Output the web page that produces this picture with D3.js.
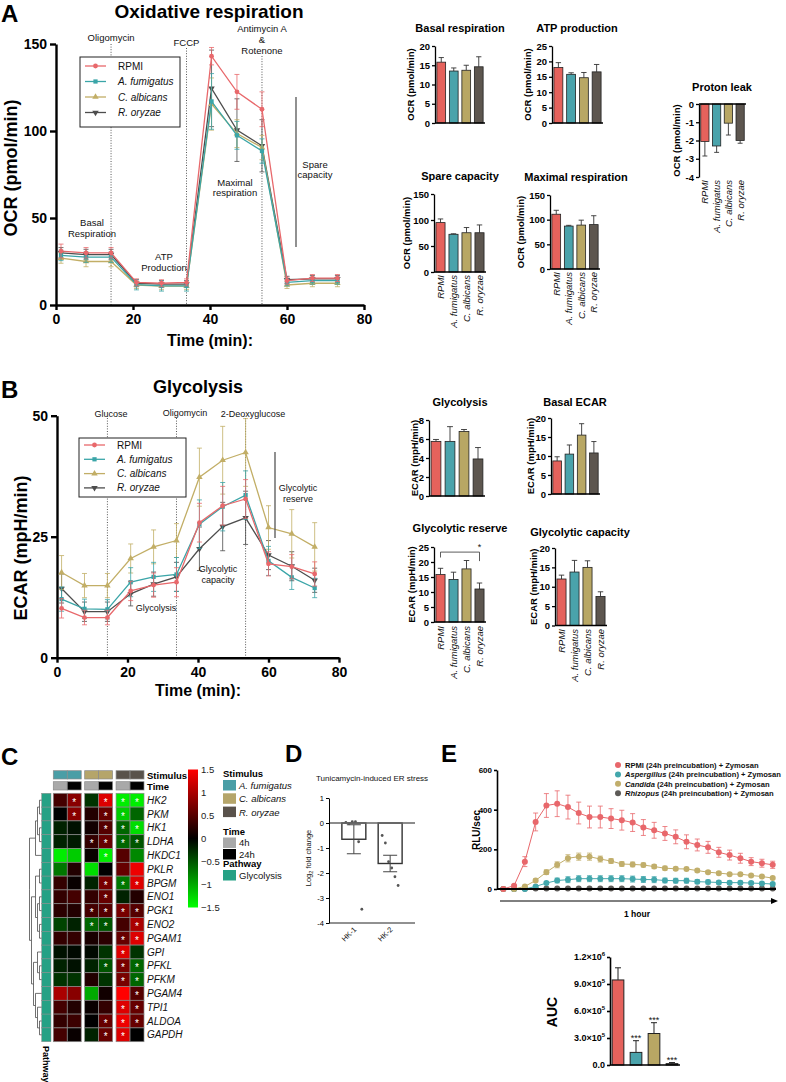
<!DOCTYPE html>
<html>
<head>
<meta charset="utf-8">
<script src="https://cdn.jsdelivr.net/npm/d3@7"></script>
<style>
  body { margin: 0; background: #fff; }
  svg { display: block; }
</style>
</head>
<body>
<div id="chart"></div>
<script>
// ---------- data ----------
const groups = ['RPMI', 'A. fumigatus', 'C. albicans', 'R. oryzae'];
const barColors = ['#e5625c', '#4aa3ab', '#b8a764', '#5d564f'];
const lineColors = ['#e8686b', '#3aa5a8', '#c2ae66', '#4d4d4d'];

// A: OCR time course
const ocrTime = [1.3, 7.8, 14.3, 20.9, 27.4, 33.9, 40.4, 47.0, 53.5, 60.0, 66.6, 73.1];
const ocrRpmi = [31, 30, 30, 13, 12.5, 13, 143, 122.5, 112.5, 14, 15.5, 15.5];
const ocrAfum = [28.5, 27.5, 27.5, 11.7, 11, 11, 117, 97.5, 88.5, 13, 14, 14];
const ocrCalb = [27, 25, 25, 11.5, 10.8, 10.8, 115.5, 98.5, 90.5, 11.5, 12.5, 12.5];
const ocrRory = [30, 29, 29, 12.5, 12, 12, 124.5, 100.5, 91.5, 14.5, 15, 15];
const ocrRpmiErr = [4, 3, 3, 2, 2, 2, 5, 10, 10, 2, 2, 2];
const ocrAfumErr = [3, 3, 3, 3, 3, 3, 16, 8, 7, 2, 2, 2];
const ocrCalbErr = [3, 3, 3, 2, 2, 2, 15, 8, 7, 2, 2, 2];
const ocrRoryErr = [3, 3, 3, 2, 2, 2, 22, 18, 15, 2, 2, 2];
const ocrInjections = [14.3, 33.9, 53.5];

// A: summary bars
const ocrBasal = [15.8, 13.5, 13.7, 14.6], ocrBasalErr = [1.2, 0.8, 1.3, 2.6];
const ocrAtp = [18.0, 15.8, 14.7, 16.6], ocrAtpErr = [1.6, 0.5, 1.7, 2.4];
const ocrLeak = [-2.05, -2.3, -1.05, -2.0], ocrLeakErr = [0.8, 0.35, 0.65, 0.15];
const ocrSpare = [95, 72.5, 75.5, 75.5], ocrSpareErr = [7, 1, 10, 15];
const ocrMax = [111, 87, 89, 90], ocrMaxErr = [8, 1.5, 10, 18];

// B: ECAR time course
const ecarTime = [1.3, 7.8, 14.3, 20.9, 27.4, 33.9, 40.4, 47.0, 53.5, 60.0, 66.6, 73.1];
const ecarRpmi = [10.2, 8.3, 8.3, 13.8, 15, 15.6, 27.9, 31.4, 32.8, 19.4, 18.8, 17.3];
const ecarAfum = [12.1, 10.1, 10, 15.6, 16.7, 17.2, 27.6, 31.2, 33.6, 20, 16.6, 14.4];
const ecarCalb = [17.6, 14.9, 14.9, 20.5, 22.9, 24.2, 37.3, 40.8, 42.4, 26.9, 25.6, 22.9];
const ecarRory = [14.3, 9.5, 9.5, 13.2, 15.2, 16.7, 22.5, 27.1, 28.9, 21.2, 18.9, 16];
const ecarRpmiErr = [2, 1.5, 1.5, 2, 2.5, 3, 4, 4, 4, 2.5, 2.5, 2.5];
const ecarAfumErr = [2.5, 2, 2, 3, 3, 3.5, 5, 5, 5, 3, 2.5, 2];
const ecarCalbErr = [3.5, 2.5, 2.5, 3, 3.5, 3.5, 6, 7, 7, 4.5, 5, 5];
const ecarRoryErr = [3, 2, 2, 2.5, 2.5, 3, 4.5, 5, 5.5, 3, 3, 2.5];
const ecarInjections = [14.3, 33.9, 53.5];

// B: summary bars
const ecarGlyco = [5.75, 5.75, 6.8, 3.9], ecarGlycoErr = [0.2, 1.55, 0.2, 1.2];
const ecarBasal = [8.7, 10.5, 15.5, 10.8], ecarBasalErr = [1.1, 2.4, 3, 3];
const ecarReserve = [15.8, 14.2, 17.7, 11], ecarReserveErr = [2.1, 2.4, 2.8, 2];
const ecarCapacity = [12, 13.8, 15, 7.5], ecarCapacityErr = [1, 3, 1.7, 1.2];

// C: heatmap
const genes = ['HK2', 'PKM', 'HK1', 'LDHA', 'HKDC1', 'PKLR', 'BPGM', 'ENO1', 'PGK1', 'ENO2',
  'PGAM1', 'GPI', 'PFKL', 'PFKM', 'PGAM4', 'TPI1', 'ALDOA', 'GAPDH'];
const stimuli = ['A. fumigatus', 'C. albicans', 'R. oryzae'];
const stimColors = ['#4a9ea6', '#b5a56a', '#59524b'];
const timePoints = ['4h', '24h'];
const timeColors = ['#a9a9a9', '#000000'];
const heatStim = ['A. fumigatus', 'A. fumigatus', 'C. albicans', 'C. albicans', 'R. oryzae', 'R. oryzae'];
const heatTime = ['4h', '24h', '4h', '24h', '4h', '24h'];
const heatValues = [
  [0.4, 0.8, -0.3, 1.3, -1.4, -1.4],
  [0, 0.8, 0.2, 0.6, -1.2, -0.6],
  [-0.2, -0.1, 0.1, 0.5, -0.6, -1.3],
  [-0.2, -0.15, 0.3, 0.6, -0.6, -0.5],
  [-1.4, -1.2, 0.05, -1.4, 0.5, -0.8],
  [-0.7, 0.2, -1.3, 0, 0.6, 1.4],
  [0.3, 0.05, -0.2, 0.7, -0.7, 1.3],
  [0.3, 0.4, 0.3, 0.6, -0.2, 0.2],
  [0.25, 0.2, 0.4, 0.5, 0.7, 0.5],
  [-0.4, -0.2, -0.6, -0.5, 0.4, 1.0],
  [0.3, 0.3, 0.15, 0.25, 0.6, 1.3],
  [-0.1, -0.05, -0.05, -0.3, 1.3, -0.3],
  [-0.2, -0.1, -0.2, -0.5, 0.7, -0.6],
  [-0.3, -0.3, 0.2, -0.3, 0.7, -0.6],
  [1.0, 0.8, -1.0, 0.1, 1.5, 0.5],
  [0.4, 0.2, 0.05, 0.3, 1.3, 0.6],
  [0.3, 0.35, 0, 0.6, 1.4, 0.6],
  [0.4, 0.05, -0.2, 0.6, 1.3, 0]
];
const heatSig = [
  [0, 1, 0, 1, 1, 1], [0, 1, 0, 1, 1, 0], [0, 0, 0, 1, 1, 1], [0, 0, 1, 1, 1, 1],
  [0, 0, 0, 1, 0, 0], [0, 0, 0, 0, 0, 0], [0, 0, 0, 1, 1, 1], [0, 0, 0, 1, 0, 0],
  [0, 0, 1, 1, 1, 1], [0, 0, 1, 1, 0, 1], [0, 0, 0, 0, 1, 1], [0, 0, 0, 0, 1, 0],
  [0, 0, 0, 1, 1, 1], [0, 0, 0, 0, 1, 1], [0, 0, 0, 0, 0, 1], [0, 0, 0, 0, 1, 1],
  [0, 0, 0, 1, 1, 1], [0, 0, 0, 1, 1, 0]
];
const geneTree = [[[[0, 1], [2, 3]], 4], [[[5, 6], [[7, 8], [9, 10]]], [[11, [12, 13]], [14, [15, [16, 17]]]]]];
const heatLegendTicks = [1.5, 1, 0.5, 0, -0.5, -1, -1.5];

// D: ER stress
const erGenes = ['HK-1', 'HK-2'];
const erMean = [-0.65, -1.62];
const erSem = [0.58, 0.33];
const erHk1Points = [0.02, -0.03, 0.05, 0.05, -0.75, -3.45];
const erHk2Points = [-0.5, -0.8, -1.55, -1.8, -2.15, -2.5];

// E: luminescence
const rluNames = ['RPMI', 'Aspergillus', 'Candida', 'Rhizopus'];
const rluColors = ['#e8676b', '#43a7ac', '#c1ae6b', '#5d5a57'];
const rluRpmi = [0, 17, 138, 338, 421, 430, 413, 383, 363, 363, 355, 347, 335, 310, 296, 280, 263, 238, 222, 210, 185, 171, 155, 138, 130, 122];
const rluAsp = [0, 0, 0, 13, 30, 43, 47, 52, 52, 52, 52, 52, 50, 48, 47, 43, 42, 42, 37, 35, 33, 32, 32, 30, 28, 25];
const rluCand = [0, 0, 13, 43, 85, 122, 155, 163, 163, 151, 141, 126, 124, 121, 113, 105, 102, 101, 93, 85, 80, 75, 75, 68, 63, 55];
const rluRhiz = [0, 0, 1, 2, 3, 3, 3, 3, 3, 3, 3, 3, 3, 3, 3, 3, 3, 3, 3, 3, 3, 3, 3, 3, 3, 3];
const rluRpmiErr = [2, 5, 25, 45, 60, 65, 60, 55, 55, 55, 50, 50, 45, 40, 40, 35, 35, 35, 30, 30, 25, 25, 25, 20, 20, 18];
const rluAspErr = [1, 1, 2, 4, 6, 12, 15, 15, 15, 15, 15, 15, 15, 15, 15, 12, 12, 12, 10, 10, 8, 8, 8, 8, 6, 6];
const rluCandErr = [2, 2, 5, 8, 12, 15, 18, 18, 18, 15, 12, 12, 12, 10, 10, 10, 8, 8, 8, 8, 8, 6, 6, 6, 6, 6];
const rluRhizErr = [1, 1, 1, 1, 1, 1, 1, 1, 1, 1, 1, 1, 1, 1, 1, 1, 1, 1, 1, 1, 1, 1, 1, 1, 1, 1];
const aucMean = [9.45e5, 1.4e5, 3.5e5, 1.5e4];
const aucErr = [1.35e5, 1.3e5, 1.2e5, 1.2e4];
const aucSig = ['', '***', '***', '***'];
const aucTicks = [0, 3e5, 6e5, 9e5, 1.2e6];

// ---------- setup ----------
const FONT = '"Liberation Sans", Arial, Helvetica, sans-serif';
const W = 786, H = 1082;
const svg = d3.select('#chart').append('svg')
  .attr('width', W).attr('height', H).attr('font-family', FONT);
svg.append('rect').attr('width', W).attr('height', H).attr('fill', '#fff');

function txt(parent, x, y, s, o = {}) {
  const t = parent.append('text').attr('x', x).attr('y', y).text(s)
    .attr('font-size', o.size || 10)
    .attr('font-weight', o.bold ? 'bold' : null)
    .attr('font-style', o.italic ? 'italic' : null)
    .attr('text-anchor', o.anchor || 'start')
    .attr('fill', o.fill || '#111');
  if (o.rotate) t.attr('transform', `rotate(${o.rotate},${x},${y})`);
  return t;
}

function styleAxis(a, size, bold, width) {
  a.attr('font-family', FONT);
  a.select('.domain').attr('stroke', '#000').attr('stroke-width', width);
  a.selectAll('.tick line').attr('stroke', '#000').attr('stroke-width', width);
  a.selectAll('.tick text').attr('font-size', size)
    .attr('font-weight', bold ? 'bold' : null).attr('fill', '#000');
}

const intFmt = d => String(d).replace('-', '-');
const markerTypes = [d3.symbolCircle, d3.symbolSquare, d3.symbolTriangle, d3.symbolTriangle];

// ---------- time-course line chart (A, B) ----------
function timeCourse(g, o) {
  const x = d3.scaleLinear().domain([0, 80]).range(o.xRange);
  const y = d3.scaleLinear().domain(o.yDomain).range(o.yRange);

  g.selectAll(null).data(o.injections).join('line')
    .attr('x1', d => x(d)).attr('x2', d => x(d))
    .attr('y1', (d, i) => o.injTop[i]).attr('y2', y(0))
    .attr('stroke', '#444').attr('stroke-width', 0.9).attr('stroke-dasharray', '1,1.6');

  const ya = g.append('g').attr('transform', `translate(${x(0)},0)`)
    .call(d3.axisLeft(y).tickValues(o.yTicks).tickFormat(intFmt).tickSize(6).tickSizeOuter(0).tickPadding(3));
  const xa = g.append('g').attr('transform', `translate(0,${y(0)})`)
    .call(d3.axisBottom(x).tickValues([0, 20, 40, 60, 80]).tickFormat(intFmt).tickSize(5).tickSizeOuter(0).tickPadding(4));
  styleAxis(ya, 14, true, 2.4);
  styleAxis(xa, 14, true, 2.4);

  txt(g, (o.xRange[0] + o.xRange[1]) / 2, o.xTitleY, 'Time (min):', { size: 16, bold: true, anchor: 'middle', fill: '#000' });
  txt(g, o.yTitleX, o.yTitleY, o.yTitle, { size: 18, bold: true, anchor: 'middle', rotate: -90, fill: '#000' });

  // draw RPMI last so it sits on top
  [3, 2, 1, 0].forEach(i => {
    const mean = o.means[i], err = o.errs[i], col = lineColors[i];
    const line = d3.line().x((d, j) => x(o.time[j])).y(d => y(d));
    g.append('path').datum(mean).attr('d', line)
      .attr('fill', 'none').attr('stroke', col).attr('stroke-width', 1.3);
    const eb = g.append('g').attr('stroke', col).attr('stroke-width', 0.8);
    mean.forEach((m, j) => {
      const cx = x(o.time[j]);
      eb.append('line').attr('x1', cx).attr('x2', cx).attr('y1', y(m - err[j])).attr('y2', y(m + err[j]));
      [m - err[j], m + err[j]].forEach(v =>
        eb.append('line').attr('x1', cx - 2.5).attr('x2', cx + 2.5).attr('y1', y(v)).attr('y2', y(v)));
    });
    g.selectAll(null).data(mean).join('path')
      .attr('transform', (d, j) => `translate(${x(o.time[j])},${y(d)})${i === 3 ? ' rotate(180)' : ''}`)
      .attr('d', d3.symbol(markerTypes[i], 18))
      .attr('fill', col);
  });

  // legend
  const lg = g.append('g');
  lg.append('rect').attr('x', o.legend.x).attr('y', o.legend.y)
    .attr('width', o.legend.w).attr('height', o.legend.h)
    .attr('fill', '#fff').attr('stroke', '#222').attr('stroke-width', 1);
  groups.forEach((name, i) => {
    const ly = o.legend.y + o.legend.first + i * o.legend.step;
    const lx = o.legend.x + 5;
    lg.append('line').attr('x1', lx).attr('x2', lx + 21).attr('y1', ly).attr('y2', ly)
      .attr('stroke', lineColors[i]).attr('stroke-width', 1.3);
    lg.append('path').attr('transform', `translate(${lx + 10.5},${ly})${i === 3 ? ' rotate(180)' : ''}`)
      .attr('d', d3.symbol(markerTypes[i], 18)).attr('fill', lineColors[i]);
    txt(lg, lx + 33, ly + 3.5, name, { size: 10, italic: i > 0 });
  });
  return { x, y };
}

// ---------- summary bar chart ----------
function barChart(g, o) {
  const y = d3.scaleLinear().domain(o.domain).range([o.yBottom, o.yTop]);
  const x = d3.scaleBand().domain(groups).range([o.axisX, o.axisEnd]).paddingInner(0.3).paddingOuter(0.15);
  const base = y(0);
  groups.forEach((gname, i) => {
    const v = o.values[i], e = o.errs[i];
    const bx = x(gname), bw = x.bandwidth(), cx = bx + bw / 2;
    const tip = v + Math.sign(v) * e;
    g.append('line').attr('x1', cx).attr('x2', cx).attr('y1', y(v)).attr('y2', y(tip))
      .attr('stroke', '#333').attr('stroke-width', 0.9);
    g.append('line').attr('x1', cx - bw * 0.3).attr('x2', cx + bw * 0.3).attr('y1', y(tip)).attr('y2', y(tip))
      .attr('stroke', '#333').attr('stroke-width', 0.9);
    g.append('rect').attr('x', bx).attr('width', bw)
      .attr('y', Math.min(y(v), base)).attr('height', Math.abs(y(v) - base))
      .attr('fill', barColors[i]).attr('stroke', '#222').attr('stroke-width', 0.8);
  });
  const ya = g.append('g').attr('transform', `translate(${o.axisX},0)`)
    .call(d3.axisLeft(y).tickValues(o.ticks).tickFormat(intFmt).tickSize(3).tickSizeOuter(0).tickPadding(2));
  styleAxis(ya, 9.5, true, 1.3);
  g.append('line').attr('x1', o.axisX).attr('x2', o.axisEnd).attr('y1', base).attr('y2', base)
    .attr('stroke', '#000').attr('stroke-width', 1.5);

  txt(g, o.titleX, o.titleY, o.title, { size: 11, bold: true, anchor: 'middle', fill: '#000' });
  const ym = (o.yTop + o.yBottom) / 2;
  txt(g, o.yTitleX + 3.5, ym, o.yTitle, { size: 9.5, bold: true, anchor: 'middle', rotate: -90, fill: '#000' });
  if (o.labelY) {
    groups.forEach(gname => {
      const lx = x(gname) + x.bandwidth() / 2 + 3.5;
      txt(g, lx, o.labelY, gname, { size: 9.5, italic: true, anchor: 'end', rotate: -90, fill: '#111' });
    });
  }
  return { x, y };
}

// ================= Panel A =================
const gA = svg.append('g');
txt(gA, 1, 22, 'A', { size: 24, bold: true, fill: '#000' });
txt(gA, 209, 18, 'Oxidative respiration', { size: 19, bold: true, anchor: 'middle', fill: '#000' });
const A = timeCourse(gA, {
  xRange: [56, 364], yDomain: [0, 150], yRange: [305, 44], yTicks: [0, 50, 100, 150],
  time: ocrTime, means: [ocrRpmi, ocrAfum, ocrCalb, ocrRory], errs: [ocrRpmiErr, ocrAfumErr, ocrCalbErr, ocrRoryErr],
  injections: ocrInjections, injTop: [44, 48, 56],
  xTitleY: 346, yTitle: 'OCR (pmol/min)', yTitleX: 17, yTitleY: 168,
  legend: { x: 80, y: 57, w: 100, h: 70, first: 9, step: 15.5 }
});
txt(gA, A.x(14.3), 41, 'Oligomycin', { size: 9.5, anchor: 'middle' });
txt(gA, A.x(33.9), 46, 'FCCP', { size: 9.5, anchor: 'middle' });
txt(gA, A.x(53.5), 32, 'Antimycin A', { size: 9.5, anchor: 'middle' });
txt(gA, A.x(53.5), 43, '&', { size: 9.5, anchor: 'middle' });
txt(gA, A.x(53.5), 54, 'Rotenone', { size: 9.5, anchor: 'middle' });
txt(gA, 92, 226, 'Basal', { size: 9.5, anchor: 'middle' });
txt(gA, 92, 237, 'Respiration', { size: 9.5, anchor: 'middle' });
txt(gA, 164, 260, 'ATP', { size: 9.5, anchor: 'middle' });
txt(gA, 164, 271, 'Production', { size: 9.5, anchor: 'middle' });
txt(gA, 235, 186, 'Maximal', { size: 9.5, anchor: 'middle' });
txt(gA, 235, 196, 'respiration', { size: 9.5, anchor: 'middle' });
gA.append('line').attr('x1', 296).attr('x2', 296).attr('y1', 97).attr('y2', 247)
  .attr('stroke', '#555').attr('stroke-width', 1.3);
txt(gA, 315, 168, 'Spare', { size: 9.5, anchor: 'middle' });
txt(gA, 315, 178, 'capacity', { size: 9.5, anchor: 'middle' });

barChart(gA, { values: ocrBasal, errs: ocrBasalErr, domain: [0, 20], ticks: [0, 5, 10, 15, 20],
  axisX: 435, axisEnd: 485, yTop: 46, yBottom: 123, title: 'Basal respiration', titleX: 460, titleY: 32,
  yTitle: 'OCR (pmol/min)', yTitleX: 410 });
barChart(gA, { values: ocrAtp, errs: ocrAtpErr, domain: [0, 25], ticks: [0, 5, 10, 15, 20, 25],
  axisX: 552, axisEnd: 603, yTop: 46, yBottom: 123, title: 'ATP production', titleX: 577, titleY: 32,
  yTitle: 'OCR (pmol/min)', yTitleX: 527 });
barChart(gA, { values: ocrLeak, errs: ocrLeakErr, domain: [-4, 0], ticks: [0, -1, -2, -3, -4],
  axisX: 699, axisEnd: 746, yTop: 104, yBottom: 177, title: 'Proton leak', titleX: 722, titleY: 91,
  yTitle: 'OCR (pmol/min)', yTitleX: 676, labelY: 180 });
barChart(gA, { values: ocrSpare, errs: ocrSpareErr, domain: [0, 150], ticks: [0, 50, 100, 150],
  axisX: 434, axisEnd: 486, yTop: 194, yBottom: 272, title: 'Spare capacity', titleX: 460, titleY: 180,
  yTitle: 'OCR (pmol/min)', yTitleX: 406, labelY: 275 });
barChart(gA, { values: ocrMax, errs: ocrMaxErr, domain: [0, 150], ticks: [0, 50, 100, 150],
  axisX: 550, axisEnd: 600, yTop: 195, yBottom: 269, title: 'Maximal respiration', titleX: 576, titleY: 181,
  yTitle: 'OCR (pmol/min)', yTitleX: 520, labelY: 272 });

// ================= Panel B =================
const gB = svg.append('g');
txt(gB, 1, 398, 'B', { size: 24, bold: true, fill: '#000' });
txt(gB, 198, 393, 'Glycolysis', { size: 18, bold: true, anchor: 'middle', fill: '#000' });
const B = timeCourse(gB, {
  xRange: [57, 339], yDomain: [0, 50], yRange: [657.7, 415.7], yTicks: [0, 25, 50],
  time: ecarTime, means: [ecarRpmi, ecarAfum, ecarCalb, ecarRory], errs: [ecarRpmiErr, ecarAfumErr, ecarCalbErr, ecarRoryErr],
  injections: ecarInjections, injTop: [418, 418, 418],
  xTitleY: 696, yTitle: 'ECAR (mpH/min)', yTitleX: 27, yTitleY: 548,
  legend: { x: 79, y: 438, w: 107, h: 59, first: 7, step: 14.3 }
});
txt(gB, 111, 417, 'Glucose', { size: 9, anchor: 'middle' });
txt(gB, 185, 416, 'Oligomycin', { size: 9, anchor: 'middle' });
txt(gB, 253, 417, '2-Deoxyglucose', { size: 9, anchor: 'middle' });
txt(gB, 156, 611, 'Glycolysis', { size: 9, anchor: 'middle' });
txt(gB, 218, 572, 'Glycolytic', { size: 9, anchor: 'middle' });
txt(gB, 218, 583, 'capacity', { size: 9, anchor: 'middle' });
gB.append('line').attr('x1', 275).attr('x2', 275).attr('y1', 452).attr('y2', 538)
  .attr('stroke', '#555').attr('stroke-width', 1.3);
txt(gB, 298, 491, 'Glycolytic', { size: 9, anchor: 'middle' });
txt(gB, 298, 502, 'reserve', { size: 9, anchor: 'middle' });

barChart(gB, { values: ecarGlyco, errs: ecarGlycoErr, domain: [0, 8], ticks: [0, 2, 4, 6, 8],
  axisX: 429, axisEnd: 485, yTop: 420, yBottom: 496, title: 'Glycolysis', titleX: 460, titleY: 406,
  yTitle: 'ECAR (mpH/min)', yTitleX: 414 });
barChart(gB, { values: ecarBasal, errs: ecarBasalErr, domain: [0, 20], ticks: [0, 5, 10, 15, 20],
  axisX: 551, axisEnd: 600, yTop: 418, yBottom: 494, title: 'Basal ECAR', titleX: 575, titleY: 406,
  yTitle: 'ECAR (mpH/min)', yTitleX: 530 });
const R = barChart(gB, { values: ecarReserve, errs: ecarReserveErr, domain: [0, 25], ticks: [0, 5, 10, 15, 20, 25],
  axisX: 434, axisEnd: 486, yTop: 547, yBottom: 622, title: 'Glycolytic reserve', titleX: 460, titleY: 532,
  yTitle: 'ECAR (mpH/min)', yTitleX: 411, labelY: 626 });
barChart(gB, { values: ecarCapacity, errs: ecarCapacityErr, domain: [0, 20], ticks: [0, 5, 10, 15, 20],
  axisX: 555, axisEnd: 607, yTop: 548, yBottom: 625.5, title: 'Glycolytic capacity', titleX: 580, titleY: 536,
  yTitle: 'ECAR (mpH/min)', yTitleX: 533, labelY: 629 });
{
  const c1 = R.x(groups[0]) + R.x.bandwidth() / 2, c4 = R.x(groups[3]) + R.x.bandwidth() / 2;
  const top = R.y(23.3);
  gB.append('path').attr('d', `M${c1},${R.y(21.5)}V${top}H${c4}V${R.y(20.3)}`)
    .attr('fill', 'none').attr('stroke', '#333').attr('stroke-width', 0.8);
  txt(gB, c4, top - 2, '*', { size: 9, anchor: 'middle' });
}

// ================= Panel C (heatmap) =================
const gC = svg.append('g');
txt(gC, 1, 765, 'C', { size: 24, bold: true, fill: '#000' });
const heatColor = d3.scaleLinear().domain([-1.5, 0, 1.5]).range(['#00ff00', '#000000', '#ff0000']).clamp(true);
const stimX = d3.scaleBand().domain(stimuli).range([53.3, 144]).paddingInner(0.11);
const timeX = d3.scaleBand().domain(timePoints).range([0, stimX.bandwidth()]);
const rowY = d3.scaleBand().domain(genes).range([793.3, 1041.7]);
const colX = j => stimX(heatStim[j]) + timeX(heatTime[j]);
const cw = timeX.bandwidth(), rh = rowY.bandwidth();

heatStim.forEach((s, j) => {
  gC.append('rect').attr('x', colX(j)).attr('y', 770.7).attr('width', cw).attr('height', 8.3)
    .attr('fill', stimColors[stimuli.indexOf(s)]).attr('stroke', '#8a8a8a').attr('stroke-width', 0.7);
  gC.append('rect').attr('x', colX(j)).attr('y', 781.7).attr('width', cw).attr('height', 8.3)
    .attr('fill', timeColors[timePoints.indexOf(heatTime[j])]).attr('stroke', '#8a8a8a').attr('stroke-width', 0.7);
});
txt(gC, 147, 778.5, 'Stimulus', { size: 9.5, bold: true, fill: '#000' });
txt(gC, 147, 789.5, 'Time', { size: 9.5, bold: true, fill: '#000' });

genes.forEach((gene, i) => {
  const ry = rowY(gene);
  heatValues[i].forEach((v, j) => {
    gC.append('rect').attr('x', colX(j)).attr('y', ry).attr('width', cw).attr('height', rh)
      .attr('fill', heatColor(v)).attr('stroke', '#8a8a8a').attr('stroke-width', 0.7);
    if (heatSig[i][j]) txt(gC, colX(j) + cw / 2, ry + rh / 2 + 5.5, '*', { size: 10, anchor: 'middle', fill: '#fff' });
  });
  gC.append('rect').attr('x', 41.7).attr('y', ry).attr('width', 9.3).attr('height', rh)
    .attr('fill', '#25a185').attr('stroke', '#8a8a8a').attr('stroke-width', 0.5);
  txt(gC, 147, ry + rh / 2 + 3.5, gene, { size: 10, italic: true });
});

// dendrogram
{
  const root = d3.hierarchy(geneTree, d => Array.isArray(d) ? d : null);
  d3.cluster().separation(() => 1).size([rowY.range()[1] - rowY.range()[0], 12])(root);
  const sx = d => 29.5 + d.y, sy = d => rowY.range()[0] + d.x;
  gC.append('g').selectAll('path').data(root.links()).join('path')
    .attr('d', l => `M${sx(l.source)},${sy(l.source)}V${sy(l.target)}H${sx(l.target)}`)
    .attr('fill', 'none').attr('stroke', '#333').attr('stroke-width', 0.7);
}
txt(gC, 43, 1046, 'Pathway', { size: 9, bold: true, rotate: 90, fill: '#000' });

// colour bar
{
  const cy = d3.scaleLinear().domain([-1.5, 1.5]).range([907.5, 769.5]);
  const grad = svg.append('defs').append('linearGradient').attr('id', 'heatgrad')
    .attr('x1', 0).attr('x2', 0).attr('y1', 1).attr('y2', 0);
  [-1.5, 0, 1.5].forEach((v, i) => grad.append('stop').attr('offset', i / 2).attr('stop-color', heatColor(v)));
  gC.append('rect').attr('x', 188).attr('y', 769.5).attr('width', 10).attr('height', 138).attr('fill', 'url(#heatgrad)');
  heatLegendTicks.forEach(v => txt(gC, 201, cy(v) + 3.5, v === 0 ? '0' : String(v).replace('-', '\u2212'), { size: 9.5, fill: '#222' }));

  txt(gC, 223, 777, 'Stimulus', { size: 9.5, bold: true, fill: '#000' });
  stimuli.forEach((s, i) => {
    gC.append('rect').attr('x', 223).attr('y', 780 + i * 13.3).attr('width', 13).attr('height', 10.5).attr('fill', stimColors[i]);
    txt(gC, 239, 789 + i * 13.3, s, { size: 9.5, italic: true });
  });
  txt(gC, 223, 835, 'Time', { size: 9.5, bold: true, fill: '#000' });
  timePoints.forEach((t, i) => {
    gC.append('rect').attr('x', 223).attr('y', 837.5 + i * 11.5).attr('width', 13).attr('height', 10.5).attr('fill', timeColors[i]);
    txt(gC, 239, 846 + i * 11.5, t, { size: 9.5 });
  });
  txt(gC, 223, 867, 'Pathway', { size: 9.5, bold: true, fill: '#000' });
  gC.append('rect').attr('x', 223).attr('y', 870).attr('width', 13).attr('height', 10.5).attr('fill', '#25a185');
  txt(gC, 239, 879, 'Glycolysis', { size: 9.5 });
}

// ================= Panel D =================
const gD = svg.append('g');
txt(gD, 285, 762, 'D', { size: 24, bold: true, fill: '#000' });
txt(gD, 372, 781, 'Tunicamycin-induced ER stress', { size: 8, anchor: 'middle' });
{
  const y = d3.scaleLinear().domain([-4, 1]).range([923, 798]);
  const x = d3.scaleBand().domain(erGenes).range([329, 415]).paddingInner(0.34).paddingOuter(0.355);
  erGenes.forEach((gname, i) => {
    const bx = x(gname), bw = x.bandwidth(), cx = bx + bw / 2;
    gD.append('rect').attr('x', bx).attr('width', bw).attr('y', y(0)).attr('height', y(erMean[i]) - y(0))
      .attr('fill', '#fff').attr('stroke', '#333').attr('stroke-width', 1.4);
    const lo = y(erMean[i] - erSem[i]), hi = y(erMean[i] + erSem[i]);
    gD.append('line').attr('x1', cx).attr('x2', cx).attr('y1', lo).attr('y2', hi).attr('stroke', '#444').attr('stroke-width', 1);
    [lo, hi].forEach(v => gD.append('line').attr('x1', cx - 7).attr('x2', cx + 7).attr('y1', v).attr('y2', v)
      .attr('stroke', '#444').attr('stroke-width', 1));
    const pts = i === 0 ? erHk1Points : erHk2Points;
    const jit = d3.scalePoint().domain(d3.range(pts.length)).range([bx + 4, bx + bw - 4]);
    gD.selectAll(null).data(pts).join('circle')
      .attr('cx', (d, k) => jit(k)).attr('cy', d => y(d)).attr('r', 1.4).attr('fill', '#555');
    txt(gD, cx + 3, 930, gname, { size: 7.5, anchor: 'end', rotate: -45 });
  });
  gD.append('line').attr('x1', 329).attr('x2', 415).attr('y1', y(0)).attr('y2', y(0))
    .attr('stroke', '#666').attr('stroke-width', 1.4);
  gD.append('line').attr('x1', 329).attr('x2', 415).attr('y1', y(-4)).attr('y2', y(-4))
    .attr('stroke', '#222').attr('stroke-width', 1);
  const ya = gD.append('g').attr('transform', 'translate(329,0)')
    .call(d3.axisLeft(y).tickValues([1, 0, -1, -2, -3, -4]).tickFormat(intFmt).tickSize(3).tickSizeOuter(0).tickPadding(2));
  styleAxis(ya, 7.5, false, 1);
  const t = gD.append('text').attr('transform', 'translate(311,858) rotate(-90)')
    .attr('text-anchor', 'middle').attr('font-size', 7.5).attr('fill', '#111');
  t.append('tspan').text('Log');
  t.append('tspan').attr('font-size', 5.5).attr('dy', 2).text('2');
  t.append('tspan').attr('dy', -2).text(' fold change');
}

// ================= Panel E =================
const gE = svg.append('g');
txt(gE, 441, 762, 'E', { size: 24, bold: true, fill: '#000' });
{
  const x = d3.scaleLinear().domain([0, 25]).range([503.3, 772.7]);
  const y = d3.scaleLinear().domain([0, 600]).range([889, 770]);
  const series = [rluRpmi, rluAsp, rluCand, rluRhiz];
  const errs = [rluRpmiErr, rluAspErr, rluCandErr, rluRhizErr];
  [3, 1, 2, 0].forEach(i => {
    const col = rluColors[i];
    gE.append('path').datum(series[i])
      .attr('d', d3.line().x((d, j) => x(j)).y(d => y(d)))
      .attr('fill', 'none').attr('stroke', col).attr('stroke-width', 1);
    series[i].forEach((v, j) => {
      const lo = y(Math.max(0, v - errs[i][j])), hi = y(v + errs[i][j]);
      gE.append('line').attr('x1', x(j)).attr('x2', x(j)).attr('y1', lo).attr('y2', hi)
        .attr('stroke', col).attr('stroke-width', 0.8);
      [lo, hi].forEach(yy => gE.append('line').attr('x1', x(j) - 2.5).attr('x2', x(j) + 2.5)
        .attr('y1', yy).attr('y2', yy).attr('stroke', col).attr('stroke-width', 0.8));
    });
    gE.selectAll(null).data(series[i]).join('circle')
      .attr('cx', (d, j) => x(j)).attr('cy', d => y(d)).attr('r', 3).attr('fill', col);
  });
  const ya = gE.append('g').attr('transform', 'translate(497,0)')
    .call(d3.axisLeft(y).tickValues([0, 200, 400, 600]).tickSize(3).tickSizeOuter(0).tickPadding(2));
  styleAxis(ya, 8, true, 1.6);
  gE.append('line').attr('x1', 497).attr('x2', 776).attr('y1', y(0)).attr('y2', y(0))
    .attr('stroke', '#000').attr('stroke-width', 2);
  gE.append('line').attr('x1', 500).attr('x2', 772).attr('y1', 901).attr('y2', 901)
    .attr('stroke', '#000').attr('stroke-width', 1);
  gE.append('path').attr('d', 'M778,901L771,898L771,904Z').attr('fill', '#000');
  txt(gE, 637, 917, '1 hour', { size: 8.5, bold: true, anchor: 'middle', fill: '#000' });
  txt(gE, 480, 830, 'RLU/sec', { size: 10, bold: true, anchor: 'middle', rotate: -90, fill: '#000' });

  rluNames.forEach((n, i) => {
    const ly = 765 + i * 9.4;
    gE.append('circle').attr('cx', 618).attr('cy', ly).attr('r', 3).attr('fill', rluColors[i]);
    const t = gE.append('text').attr('x', 625).attr('y', ly + 3).attr('font-size', 7.6)
      .attr('font-weight', 'bold').attr('fill', '#111');
    t.append('tspan').attr('font-style', i > 0 ? 'italic' : null).text(n);
    t.append('tspan').text(' (24h preincubation) + Zymosan');
  });

  // AUC bars
  const ay = d3.scaleLinear().domain([0, 1.2e6]).range([1065, 957]);
  const ax = d3.scaleBand().domain(rluNames).range([610, 680]).paddingInner(0.35).paddingOuter(0.12);
  rluNames.forEach((n, i) => {
    const bx = ax(n), bw = ax.bandwidth(), cx = bx + bw / 2, tip = ay(aucMean[i] + aucErr[i]);
    gE.append('line').attr('x1', cx).attr('x2', cx).attr('y1', ay(aucMean[i])).attr('y2', tip)
      .attr('stroke', '#222').attr('stroke-width', 1);
    gE.append('line').attr('x1', cx - 3).attr('x2', cx + 3).attr('y1', tip).attr('y2', tip)
      .attr('stroke', '#222').attr('stroke-width', 1);
    gE.append('rect').attr('x', bx).attr('width', bw).attr('y', ay(aucMean[i])).attr('height', ay(0) - ay(aucMean[i]))
      .attr('fill', barColors[i]).attr('stroke', '#222').attr('stroke-width', 1);
    if (aucSig[i]) txt(gE, cx, tip, aucSig[i], { size: 9, anchor: 'middle' });
  });
  const aya = gE.append('g').attr('transform', 'translate(610,0)')
    .call(d3.axisLeft(ay).tickValues(aucTicks).tickSize(3).tickSizeOuter(0).tickPadding(2));
  styleAxis(aya, 9, true, 1.6);
  aya.selectAll('.tick text').each(function (d) {
    const t = d3.select(this).text(null);
    if (d === 0) { t.text('0.0'); return; }
    const e = Math.floor(Math.log10(d) + 1e-9), m = d / 10 ** e;
    t.append('tspan').text(m.toFixed(1) + '\u00d710');
    t.append('tspan').attr('dy', -4).attr('font-size', 6).text(e);
  });
  gE.append('line').attr('x1', 610).attr('x2', 680).attr('y1', ay(0)).attr('y2', ay(0))
    .attr('stroke', '#000').attr('stroke-width', 1.6);
  txt(gE, 557, 1012, 'AUC', { size: 14, bold: true, anchor: 'middle', rotate: -90, fill: '#000' });
}
</script>
</body>
</html>
